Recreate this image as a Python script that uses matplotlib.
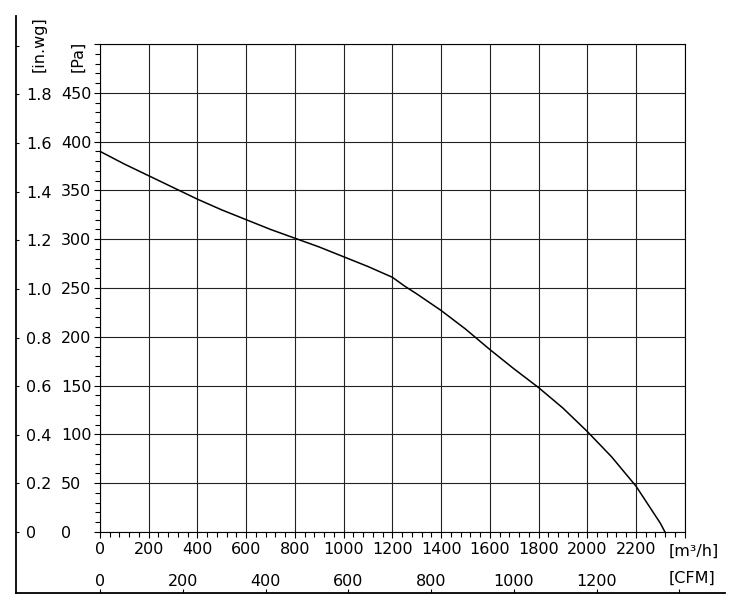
import numpy as np
import matplotlib
matplotlib.use("Agg")
import matplotlib.pyplot as plt
from matplotlib.ticker import MultipleLocator
from matplotlib.lines import Line2D

# fan curve: flow [m3/h] vs static pressure [Pa]
flow = [0, 100, 200, 300, 400, 500, 600, 700, 800, 900, 1000, 1100, 1200,
        1250, 1300, 1400, 1500, 1600, 1700, 1800, 1900, 2000, 2100, 2200, 2300, 2319]
press = [390, 377, 365, 353, 341, 330, 320, 310, 301, 292, 282, 272, 261,
         252, 244, 227, 208, 187, 167, 148, 127, 103, 77, 47, 9, 0]

x_ticks = list(range(0, 2401, 200))
x_labels = [str(v) for v in range(0, 2201, 200)] + [""]
pa_ticks = list(range(0, 501, 50))
pa_labels = [str(v) for v in range(0, 451, 50)] + [""]
inwg_ticks = [0, 0.2, 0.4, 0.6, 0.8, 1.0, 1.2, 1.4, 1.6, 1.8, 2.0]
inwg_labels = ["0", "0.2", "0.4", "0.6", "0.8", "1.0", "1.2", "1.4", "1.6", "1.8", ""]
cfm_ticks = [0, 200, 400, 600, 800, 1000, 1200, 1400]
cfm_labels = ["0", "200", "400", "600", "800", "1000", "1200", ""]

PA_PER_INWG = 249.09
M3H_PER_CFM = 1.699

W, H = 736, 606
plt.rcParams['font.family'] = 'DejaVu Sans'
plt.rcParams['font.size'] = 11.5

def fx(px):
    return px / W

def fy(py):
    return 1 - py / H

fig = plt.figure(figsize=(W / 100, H / 100), dpi=100)
ax = fig.add_axes([fx(100), fy(532), fx(684.7) - fx(100), fy(44) - fy(532)])
ax.plot(flow, press, color='black', lw=1.1)
ax.set_xlim(0, 2400)
ax.set_ylim(0, 500)
ax.set_xticks(x_ticks, x_labels)
ax.set_yticks(pa_ticks, pa_labels)
ax.xaxis.set_minor_locator(MultipleLocator(40))
ax.yaxis.set_minor_locator(MultipleLocator(10))
ax.grid(True, which='major', color='#222222', lw=0.8)
ax.tick_params(which='major', direction='out', length=4.3, width=0.8, color='black')
ax.tick_params(which='minor', direction='out', length=3.6, width=0.8, color='black')
ax.tick_params(axis='x', pad=3.2)
ax.tick_params(axis='y', pad=23.8)
plt.setp(ax.get_yticklabels(), ha='left')
for s in ax.spines.values():
    s.set_linewidth(0.8)

# in.wg scale on the outer left line
sec_y = ax.secondary_yaxis((16 - 100) / 584.7,
                           functions=(lambda p: p / PA_PER_INWG, lambda w: w * PA_PER_INWG))
sec_y.set_alignment('right')
sec_y.set_yticks(inwg_ticks, inwg_labels)
sec_y.tick_params(direction='out', length=2.5, width=0.8, pad=5)
for s in sec_y.spines.values():
    s.set_visible(False)

# CFM scale on the outer bottom line
sec_x = ax.secondary_xaxis((532 - 593) / 488,
                           functions=(lambda q: q / M3H_PER_CFM, lambda c: c * M3H_PER_CFM))
sec_x.set_alignment('top')
sec_x.set_xticks(cfm_ticks, cfm_labels)
sec_x.tick_params(direction='out', length=2.9, width=0.8, pad=0.3)
for s in sec_x.spines.values():
    s.set_visible(False)

fig.add_artist(Line2D([fx(16), fx(16)], [fy(16), fy(593)], color='black', lw=1.3))
fig.add_artist(Line2D([fx(16), fx(725)], [fy(593), fy(593)], color='black', lw=1.3))

fig.text(fx(38.7), fy(72), '[in.wg]', rotation=90, ha='center', va='bottom')
fig.text(fx(78), fy(72), '[Pa]', rotation=90, ha='center', va='bottom')
fig.text(fx(669), fy(551), '[m³/h]', ha='left', va='center')
fig.text(fx(669), fy(578), '[CFM]', ha='left', va='center')

fig.savefig('out.png', dpi=100)
